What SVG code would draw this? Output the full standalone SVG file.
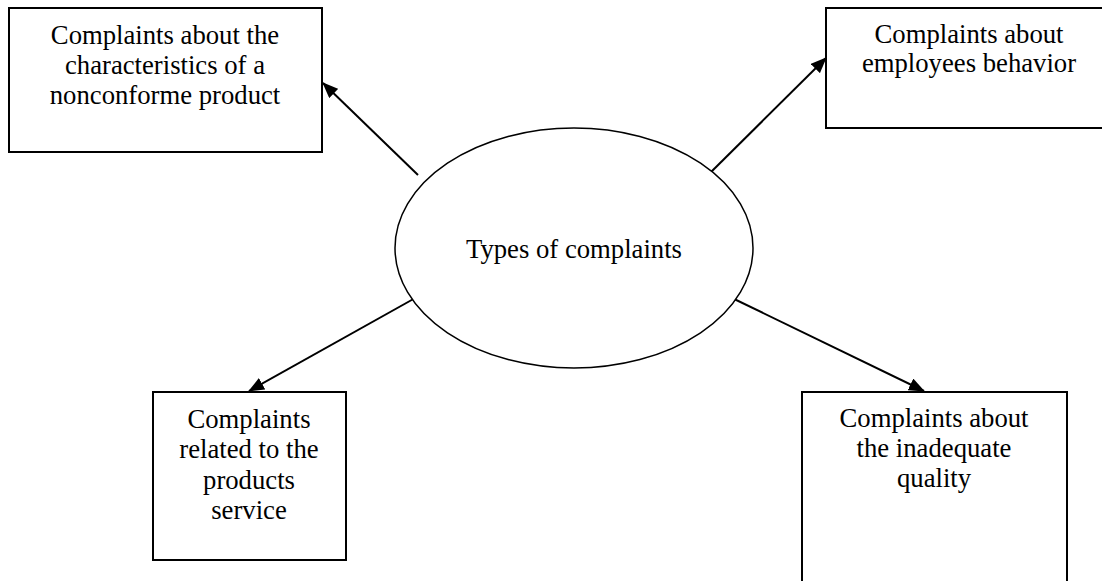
<svg xmlns="http://www.w3.org/2000/svg" width="1102" height="581" viewBox="0 0 1102 581">
<style>
.box{fill:#fff;stroke:#000;stroke-width:2}
.ell{fill:#fff;stroke:#000;stroke-width:1.5}
.t{font-family:"Liberation Serif","Times New Roman",serif;font-size:26.7px;fill:#000;text-anchor:middle}
.c{stroke:#000;stroke-width:2;fill:none;marker-end:url(#ah)}
</style>
<defs>
<marker id="ah" viewBox="0 0 16 13" refX="15" refY="6.5" markerWidth="16" markerHeight="13" markerUnits="userSpaceOnUse" orient="auto">
<path d="M0,0 L16,6.5 L0,13 z" fill="#000"/>
</marker>
</defs>
<rect width="1102" height="581" fill="#fff"/>
<g id="connectors">
<line class="c" x1="418" y1="175" x2="323" y2="83"/>
<line class="c" x1="707" y1="176" x2="826" y2="58"/>
<line class="c" x1="417" y1="297" x2="249" y2="391"/>
<line class="c" x1="730" y1="297" x2="924" y2="391"/>
</g>
<g id="center">
<ellipse class="ell" cx="574" cy="248" rx="179" ry="120"/>
<text class="t" x="574" y="258">Types of complaints</text>
</g>
<g id="node-product">
<rect class="box" x="9" y="8" width="313" height="144"/>
<text class="t" x="165" y="44">Complaints about the</text>
<text class="t" x="165" y="74">characteristics of a</text>
<text class="t" x="165" y="104">nonconforme product</text>
</g>
<g id="node-employees">
<rect class="box" x="826" y="8" width="290" height="120"/>
<text class="t" x="969" y="43">Complaints about</text>
<text class="t" x="969" y="72">employees behavior</text>
</g>
<g id="node-service">
<rect class="box" x="153" y="392" width="193" height="168"/>
<text class="t" x="249" y="428">Complaints</text>
<text class="t" x="249" y="458">related to the</text>
<text class="t" x="249" y="489">products</text>
<text class="t" x="249" y="519">service</text>
</g>
<g id="node-quality">
<rect class="box" x="802" y="392" width="265" height="200"/>
<text class="t" x="934" y="427">Complaints about</text>
<text class="t" x="934" y="457">the inadequate</text>
<text class="t" x="934" y="487">quality</text>
</g>
</svg>
